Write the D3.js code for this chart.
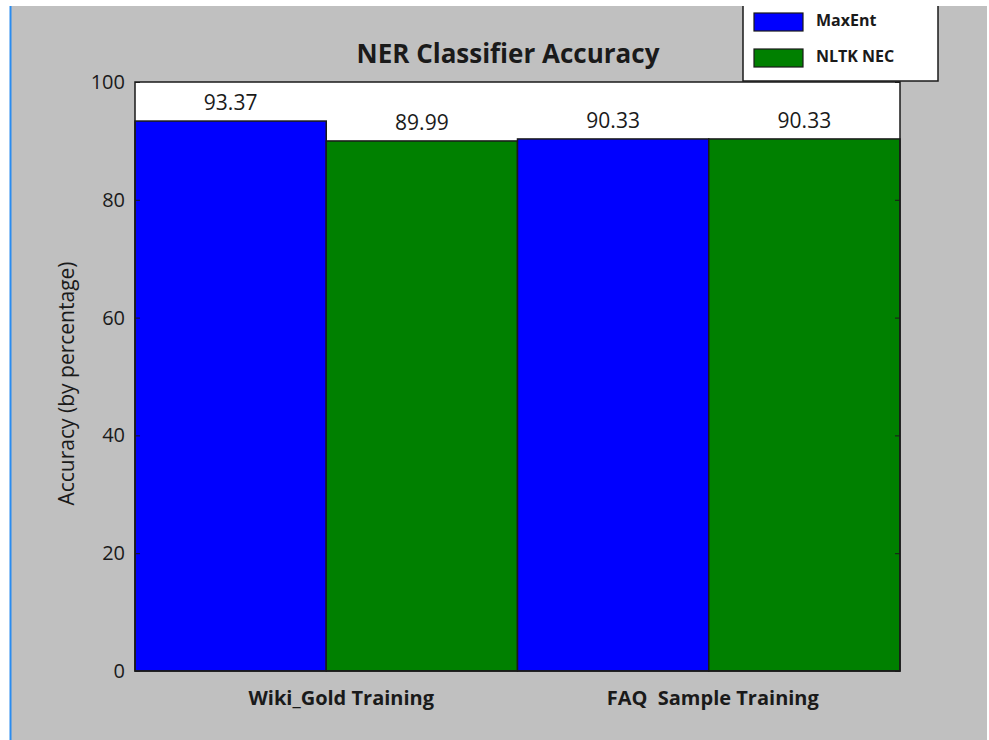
<!DOCTYPE html>
<html>
<head>
<meta charset="utf-8">
<script src="https://cdn.jsdelivr.net/npm/d3@7"></script>
<style>
  html, body { margin: 0; padding: 0; background: #ffffff; }
  svg { display: block; }
  text { font-family: "Open Sans", "Noto Sans", sans-serif; fill: #1a1a1a; }
</style>
</head>
<body>
<svg id="chart" width="989" height="740"></svg>
<script>
// Accuracy of each classifier per training set
const categories = ["Wiki_Gold Training", "FAQ  Sample Training"];
const seriesNames = ["MaxEnt", "NLTK NEC"];
const maxEntValues = [93.37, 90.33];
const nltkNecValues = [89.99, 90.33];
const yTicks = [0, 20, 40, 60, 80, 100];
const seriesColors = ["#0000ff", "#008000"];

const svg = d3.select("#chart");
const W = 989, H = 740;
const plot = { left: 135, right: 900, top: 82, bottom: 671 };

// Figure background with its thin blue left border
svg.append("rect").attr("x", 11).attr("y", 6).attr("width", W - 13).attr("height", H - 6)
  .attr("fill", "#c0c0c0");
svg.append("line").attr("x1", 10.5).attr("x2", 10.5).attr("y1", 6).attr("y2", H)
  .attr("stroke", "#2a8cf0").attr("stroke-width", 2);

const x0 = d3.scaleBand().domain(categories).range([plot.left, plot.right]).padding(0);
const x1 = d3.scaleBand().domain(seriesNames).range([0, x0.bandwidth()]).padding(0);
const y = d3.scaleLinear().domain([0, 100]).range([plot.bottom, plot.top]);

// Plot area
svg.append("rect").attr("x", plot.left).attr("y", plot.top)
  .attr("width", plot.right - plot.left).attr("height", plot.bottom - plot.top)
  .attr("fill", "#ffffff");

const rows = categories.map((c, i) => ({
  category: c,
  values: [
    { name: seriesNames[0], value: maxEntValues[i], color: seriesColors[0] },
    { name: seriesNames[1], value: nltkNecValues[i], color: seriesColors[1] }
  ]
}));

const groups = svg.append("g").selectAll("g").data(rows).join("g")
  .attr("transform", d => `translate(${x0(d.category)},0)`);

groups.selectAll("rect").data(d => d.values).join("rect")
  .attr("x", d => x1(d.name))
  .attr("y", d => y(d.value))
  .attr("width", x1.bandwidth())
  .attr("height", d => y(0) - y(d.value))
  .attr("fill", d => d.color)
  .attr("stroke", "#1a1a1a")
  .attr("stroke-width", 1.5);

// Value labels above bars
groups.selectAll("text.val").data(d => d.values).join("text")
  .attr("class", "val")
  .attr("x", d => x1(d.name) + x1.bandwidth() / 2)
  .attr("y", d => y(d.value) - 11)
  .attr("text-anchor", "middle")
  .attr("font-size", 21)
  .text(d => d.value.toFixed(2));

// Frame around the plot area
svg.append("rect").attr("x", plot.left).attr("y", plot.top)
  .attr("width", plot.right - plot.left).attr("height", plot.bottom - plot.top)
  .attr("fill", "none").attr("stroke", "#1a1a1a").attr("stroke-width", 1.5);

// Y axis with inward ticks on both sides
const yAxis = svg.append("g").attr("transform", `translate(${plot.left},0)`)
  .call(d3.axisLeft(y).tickValues(yTicks).tickSize(-5).tickPadding(10));
yAxis.select(".domain").remove();
yAxis.selectAll(".tick line").attr("stroke", "#1a1a1a");
yAxis.selectAll(".tick text").attr("font-size", 20).attr("fill", "#1a1a1a")
  .attr("font-family", "Open Sans, sans-serif");

const yAxisR = svg.append("g").attr("transform", `translate(${plot.right},0)`)
  .call(d3.axisRight(y).tickValues(yTicks).tickSize(-5).tickFormat(""));
yAxisR.select(".domain").remove();
yAxisR.selectAll(".tick line").attr("stroke", "#1a1a1a");

// Category labels
const xAxis = svg.append("g").attr("transform", `translate(0,${plot.bottom})`)
  .call(d3.axisBottom(x0).tickSize(0).tickPadding(20));
xAxis.select(".domain").remove();
xAxis.selectAll(".tick text")
  .attr("font-size", 20).attr("font-weight", "bold").attr("fill", "#1a1a1a")
  .attr("font-family", "Open Sans, sans-serif")
  .attr("dx", (d, i) => i === 0 ? 15 : 4)
  .style("white-space", "pre")
  .attr("xml:space", "preserve");

// Axis title
svg.append("text")
  .attr("transform", `translate(74,${(plot.top + plot.bottom) / 2 + 7}) rotate(-90)`)
  .attr("text-anchor", "middle")
  .attr("font-size", 21)
  .attr("fill", "#333")
  .text("Accuracy (by percentage)");

// Chart title
svg.append("text")
  .attr("x", 508).attr("y", 63)
  .attr("text-anchor", "middle")
  .attr("font-size", 26)
  .attr("font-weight", "bold")
  .text("NER Classifier Accuracy");

// Legend
const legend = svg.append("g");
legend.append("rect").attr("x", 743).attr("y", 2).attr("width", 195).attr("height", 79)
  .attr("fill", "#ffffff").attr("stroke", "#1a1a1a").attr("stroke-width", 1.5);
svg.append("rect").attr("x", 700).attr("y", 0).attr("width", 289).attr("height", 6).attr("fill", "#ffffff");
const legItems = legend.selectAll("g.item").data(seriesNames).join("g")
  .attr("class", "item")
  .attr("transform", (d, i) => `translate(754,${13 + i * 36})`);
legItems.append("rect").attr("width", 49).attr("height", 18)
  .attr("fill", (d, i) => seriesColors[i]).attr("stroke", "#1a1a1a").attr("stroke-width", 1.2);
legItems.append("text").attr("x", 62).attr("y", 13)
  .attr("font-size", 16).attr("font-weight", "bold")
  .text(d => d);
</script>
</body>
</html>
